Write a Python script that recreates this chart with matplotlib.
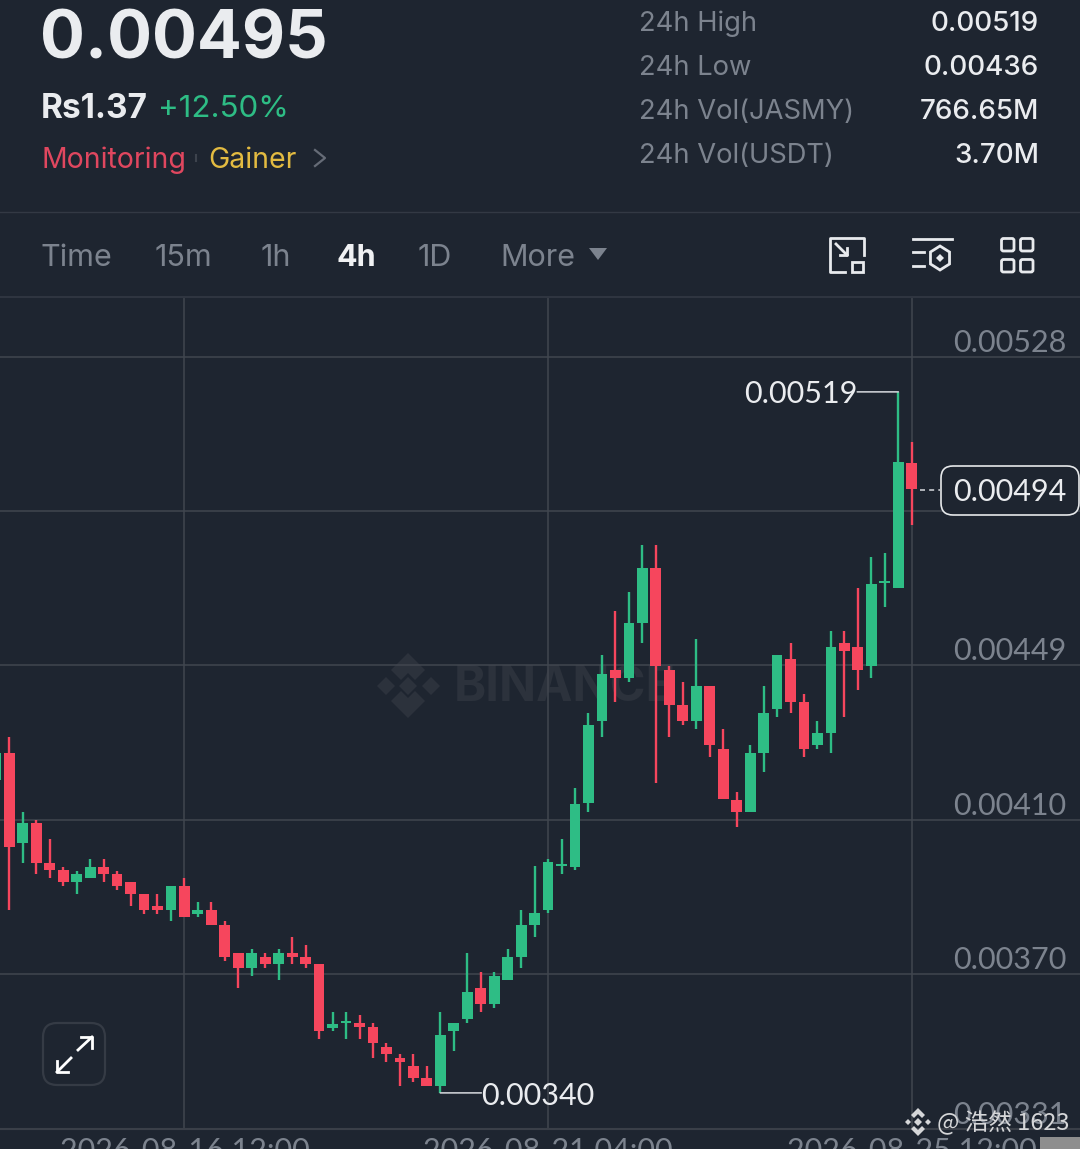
#!/usr/bin/python3
import numpy as np
import matplotlib
matplotlib.use('Agg')
import matplotlib.pyplot as plt
from matplotlib.patches import FancyBboxPatch, Polygon, Rectangle

# OHLC, in units of 1e-5 USDT. First candle is cut by the left edge
opens = [420.1, 426.9, 404.0, 409.1, 398.9, 397.1, 394.0, 395.0, 397.9, 396.1, 394.0, 391.0, 387.9, 386.9, 393.0, 385.9, 386.9,
         383.1, 375.9, 372.1, 374.9, 373.1, 375.9, 374.9, 373.1, 356.8, 358.0, 358.0, 357.0, 351.9, 349.1, 347.1, 344.0,
         342.0, 356.0, 359.1, 367.0, 362.9, 369.0, 374.9, 383.1, 386.9, 398.1, 397.9, 414.2, 435.1, 448.1, 446.1, 460.1,
         474.2, 448.1, 439.2, 435.1, 444.0, 428.0, 415.0, 411.9, 426.9, 438.2, 450.9, 440.0, 429.0, 432.1, 455.0, 454.0,
         449.2, 470.3, 469.1, 501.0]
closes = [426.9, 403.0, 409.1, 398.9, 397.1, 394.0, 396.1, 397.9, 396.1, 393.0, 391.0, 386.9, 386.9, 393.0, 385.1, 386.9, 383.1,
          374.9, 372.1, 375.9, 373.1, 375.9, 374.9, 373.1, 356.0, 357.8, 358.6, 357.0, 352.9, 350.1, 348.1, 344.0, 342.0,
          355.0, 358.0, 366.0, 362.9, 370.0, 374.9, 383.1, 386.1, 399.1, 398.6, 413.9, 434.1, 447.1, 446.1, 460.1, 474.2,
          449.2, 439.2, 435.1, 444.0, 429.0, 415.2, 411.9, 426.9, 437.2, 452.0, 440.0, 428.0, 432.1, 454.0, 453.0, 448.1,
          470.1, 470.6, 501.2, 494.3]
highs = [426.9, 431.0, 411.9, 409.9, 405.0, 397.9, 396.8, 399.9, 399.9, 396.8, 394.0, 391.0, 391.0, 393.0, 395.0, 388.9, 388.9,
         384.1, 375.9, 376.9, 375.9, 376.9, 380.0, 378.0, 373.1, 360.9, 360.9, 360.1, 358.0, 352.9, 350.1, 350.1, 347.1,
         360.9, 358.0, 375.9, 371.1, 371.1, 376.9, 386.9, 398.1, 399.9, 405.0, 418.0, 437.2, 452.0, 463.2, 468.0, 480.0,
         480.0, 449.2, 445.1, 456.0, 444.0, 433.1, 417.0, 429.0, 444.0, 452.0, 455.0, 442.0, 435.1, 458.1, 458.1, 469.1,
         477.0, 478.0, 519.1, 506.3]
lows = [420.1, 386.9, 398.9, 396.1, 395.0, 393.0, 391.0, 395.0, 394.0, 392.0, 387.9, 385.9, 385.9, 384.1, 385.1, 385.1, 383.1,
        373.9, 367.0, 370.0, 372.1, 369.0, 373.1, 372.1, 354.0, 356.0, 354.0, 354.0, 349.1, 348.1, 342.0, 343.0, 342.0,
        340.2, 350.9, 358.0, 360.9, 361.9, 369.0, 372.1, 380.0, 386.1, 396.1, 397.1, 411.9, 431.0, 440.0, 445.1, 455.0,
        419.3, 431.0, 434.1, 433.1, 425.9, 415.2, 408.1, 411.9, 422.1, 436.1, 437.2, 425.9, 428.0, 426.9, 436.1, 443.0,
        446.1, 464.2, 469.1, 485.1]
candle_idx = np.arange(-1, 68)

ytick_vals = [528.0, 488.7, 449.4, 409.9, 370.5, 331.0]
ytick_labels = ['0.00528', '0.00489', '0.00449', '0.00410', '0.00370', '0.00331']
xtick_idx = [13, 40, 67]
xtick_labels = ['2026-08-16 12:00', '2026-08-21 04:00', '2026-08-25 12:00']

high_idx, high_label = 66, '0.00519'
low_idx, low_label = 32, '0.00340'
last_label = '0.00494'

stat_names = ['24h High', '24h Low', '24h Vol(JASMY)', '24h Vol(USDT)']
stat_values = ['0.00519', '0.00436', '766.65M', '3.70M']
tab_names = ['Time', '15m', '1h', '4h', '1D', 'More']
tab_x = [41, 155, 261, 337, 418, 500]
stat_y = [24, 68, 112, 156]

BG = '#1e2530'
GREEN = '#2ebd85'
RED = '#f6465d'
GRID = '#41464f'
GRAY = '#7c838e'
WHITE = '#eaecef'

plt.rcParams['font.family'] = ['Inter', 'DejaVu Sans']
NUM = dict(family=['Lato', 'DejaVu Sans'], fontsize=22)

W, H = 1080, 1149
fig = plt.figure(figsize=(W / 100, H / 100), dpi=100, facecolor=BG)

# background layer, pixel coords, for the watermark
back = fig.add_axes([0, 0, 1, 1], zorder=0)
back.set_xlim(0, W)
back.set_ylim(H, 0)
back.axis('off')
wm = '#2c323c'
back.add_patch(Polygon([(408, 653), (425, 670), (415, 680), (408, 673), (401, 680), (391, 670)], color=wm, lw=0))
back.add_patch(Polygon([(408, 718), (425, 701), (415, 691), (408, 698), (401, 691), (391, 701)], color=wm, lw=0))
back.add_patch(Polygon([(408, 677), (417, 686), (408, 695), (399, 686)], color=wm, lw=0))
back.add_patch(Polygon([(386, 677), (395, 686), (386, 695), (377, 686)], color=wm, lw=0))
back.add_patch(Polygon([(431, 677), (440, 686), (431, 695), (422, 686)], color=wm, lw=0))
back.text(454, 688, 'BINANCE', color=wm, fontsize=35, fontweight='bold', va='center', ha='left')

# chart itself
top_px, bottom_px = 298, 1129
ax = fig.add_axes([0, 1 - bottom_px / H, 1, (bottom_px - top_px) / H], zorder=1)
ax.patch.set_alpha(0)
ax.set_xlim(-0.69, 79.49)
ax.set_ylim(619.1064 - 0.2552 * bottom_px, 619.1064 - 0.2552 * top_px)

colors = [GREEN if c >= o else RED for o, c in zip(opens, closes)]
ax.vlines(candle_idx, lows, highs, colors=colors, linewidth=1.7, zorder=3)
body_low = np.minimum(opens, closes)
body_h = np.maximum(np.abs(np.array(closes) - np.array(opens)), 0.6)
ax.bar(candle_idx, body_h, bottom=body_low, width=0.8, color=colors, linewidth=0, zorder=3)

ax.set_yticks(ytick_vals)
ax.set_yticklabels(ytick_labels, **NUM)
ax.yaxis.tick_right()
ax.tick_params(axis='y', length=0, pad=-10, labelcolor=GRAY)
for lab in ax.get_yticklabels():
    lab.set_ha('right')
    lab.set_va('bottom')
ax.set_xticks(xtick_idx)
ax.set_xticklabels(xtick_labels, **NUM)
ax.tick_params(axis='x', length=0, pad=6, labelcolor=GRAY)
ax.grid(True, color=GRID, linewidth=1.1)
ax.set_axisbelow(True)
for side in ['top', 'left', 'right']:
    ax.spines[side].set_visible(False)
ax.spines['bottom'].set_color('#3a3f48')
ax.spines['bottom'].set_linewidth(1.5)

# high / low callouts
leader = dict(arrowstyle='-', color='#c9ccd1', lw=1.2, shrinkA=0, shrinkB=0)
ax.annotate('', xy=(high_idx, highs[high_idx + 1]), xytext=(-41, 0), textcoords='offset pixels', arrowprops=leader, zorder=5)
ax.annotate(high_label, xy=(high_idx, highs[high_idx + 1]), xytext=(-41, -2), textcoords='offset pixels',
            ha='right', va='center', color=WHITE, zorder=5, **NUM)
ax.annotate('', xy=(low_idx, lows[low_idx + 1]), xytext=(41, 0), textcoords='offset pixels', arrowprops=leader, zorder=5)
ax.annotate(low_label, xy=(low_idx, lows[low_idx + 1]), xytext=(41, -3), textcoords='offset pixels',
            ha='left', va='center', color=WHITE, zorder=5, **NUM)

# top layer, pixel coords, for the app ui
ui = fig.add_axes([0, 0, 1, 1], zorder=2)
ui.set_xlim(0, W)
ui.set_ylim(H, 0)
ui.axis('off')
ui.patch.set_alpha(0)

ui.plot([920, 940], [490, 490], color='#c9ccd1', lw=1.2, ls=(0, (3, 2.5)))
ui.add_patch(FancyBboxPatch((949, 474), 122, 33, boxstyle='round,pad=8,rounding_size=12', fc=BG, ec='#e6e8ea', lw=1.2))
ui.text(1010, 492, last_label, color=WHITE, ha='center', va='center', **NUM)

ui.text(40, 41, '0.00495', color=WHITE, fontsize=48, fontweight='bold', ha='left', va='center')
ui.text(41, 109, 'Rs1.37', color=WHITE, fontsize=24, fontweight='bold', ha='left', va='center')
ui.text(158, 109, '+12.50%', color=GREEN, fontsize=22.5, ha='left', va='center')
ui.text(41, 160, 'Monitoring', color='#e0475f', fontsize=20.5, ha='left', va='center')
ui.plot([196, 196], [155, 161], color='#3d434d', lw=1.5)
ui.text(208, 160, 'Gainer', color='#e3bb41', fontsize=20.5, ha='left', va='center')
ui.plot([315, 325, 315], [150, 158, 166], color='#666c77', lw=1.6)

for name, val, y in zip(stat_names, stat_values, stat_y):
    ui.text(639, y, name, color=GRAY, fontsize=19.7, ha='left', va='center')
    ui.text(1039, y, val, color=WHITE, fontsize=20, fontweight='medium', ha='right', va='center')

ui.plot([0, W], [212, 212], color='#333944', lw=1)
ui.plot([0, W], [297, 297], color='#2f3540', lw=1.5)

for name, x in zip(tab_names, tab_x):
    active = name == '4h'
    ui.text(x, 258, name, color='#f0f1f3' if active else GRAY, fontsize=22,
            fontweight='bold' if active else 'normal', ha='left', va='center')
ui.add_patch(Polygon([(589, 248), (607, 248), (598, 260)], color=GRAY, lw=0))

# toolbar icons
ic = '#e8eaed'
ui.plot([864, 864, 830, 830, 845], [255, 238, 238, 272, 272], color=ic, lw=2)
ui.add_patch(Rectangle((852, 262), 11, 10, fc='none', ec=ic, lw=2))
ui.plot([836, 847], [244, 255], color=ic, lw=2)
ui.plot([847, 847, 840], [248, 255, 255], color=ic, lw=2)
ui.plot([913, 952], [239, 239], color=ic, lw=2)
ui.plot([913, 924], [252, 252], color=ic, lw=2)
ui.plot([913, 924], [266, 266], color=ic, lw=2)
ang = np.deg2rad(np.arange(90, 450, 60))
ui.add_patch(Polygon(np.c_[940 + 11 * np.cos(ang), 258 + 12 * np.sin(ang)], fc='none', ec=ic, lw=2))
ui.add_patch(Polygon([(940, 254), (944, 258), (940, 262), (936, 258)], color=ic, lw=0))
for x0 in [1000, 1019]:
    for y0 in [237, 258]:
        ui.add_patch(FancyBboxPatch((x0 + 2.5, y0 + 2.5), 10.5, 10.5, boxstyle='round,pad=1,rounding_size=2', fc='none', ec=ic, lw=2))

# expand button
ui.add_patch(FancyBboxPatch((53, 1033), 42, 42, boxstyle='round,pad=10,rounding_size=14', fc=BG, ec='#353b45', lw=1.6))
ui.plot([78, 92], [1050, 1037], color='white', lw=2)
ui.plot([81, 92, 92], [1037, 1037, 1048], color='white', lw=2)
ui.plot([71, 57], [1058, 1072], color='white', lw=2)
ui.plot([57, 57, 68], [1061, 1072, 1072], color='white', lw=2)

# share watermark
wc = '#d5d6d8'
ui.add_patch(Polygon([(918, 1108), (925, 1115), (922, 1118), (918, 1114), (914, 1118), (911, 1115)], color=wc, lw=0))
ui.add_patch(Polygon([(918, 1136), (925, 1129), (922, 1126), (918, 1130), (914, 1126), (911, 1129)], color=wc, lw=0))
ui.add_patch(Polygon([(918, 1118), (922, 1122), (918, 1126), (914, 1122)], color=wc, lw=0))
ui.add_patch(Polygon([(908, 1119), (911, 1122), (908, 1125), (905, 1122)], color=wc, lw=0))
ui.add_patch(Polygon([(928, 1119), (931, 1122), (928, 1125), (925, 1122)], color=wc, lw=0))
ui.text(937, 1123, '@ 浩然 1623', color=wc, fontsize=17, ha='left', va='center',
        family=['Noto Sans CJK SC', 'DejaVu Sans'])
ui.add_patch(Rectangle((1040, 1137), 40, 12, color='#8e8e8e', lw=0))

plt.savefig('out.png', dpi=100, facecolor=BG)
plt.close()
